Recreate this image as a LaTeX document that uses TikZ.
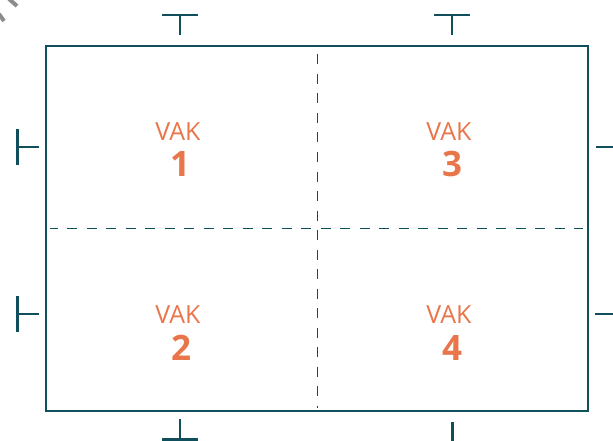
\documentclass[tikz,border=0pt]{standalone}
\usepackage{fontspec}
\setmainfont{Open Sans}
\definecolor{teal}{HTML}{0F4E5B}
\definecolor{vak}{HTML}{E8764A}
\begin{document}
\begin{tikzpicture}[x=1pt,y=-1pt,
  frame/.style={draw=teal,line width=2.1pt},
  tick/.style={draw=teal,line width=2.3pt},
  fold/.style={draw=teal,line width=0.9pt,dash pattern=on 10pt off 9.5pt},
  vaklabel/.style={text=vak,font=\fontsize{25}{25}\selectfont,anchor=base,inner sep=0pt},
  numlabel/.style={text=vak,font=\fontsize{35}{35}\selectfont\bfseries,anchor=base,inner sep=0pt}]
\useasboundingbox (0,0) rectangle (613,441);
% watermark fragments
\draw[black!45,line width=4pt] (9,-1) -- (17,6);
\draw[black!45,line width=4pt] (-1,14) -- (4,21);
% frame
\node[frame,minimum width=542pt,minimum height=365pt,inner sep=0pt,anchor=north west] (sheet) at (45,45) {};
% fold lines
\coordinate (vt) at (317,47);
\coordinate (vb) at (317,408);
\coordinate (hl) at (50,228.5);
\coordinate (hr) at (583,228.5);
\draw[fold,dash phase=12pt] (vt) -- (vb);
\draw[fold,dash phase=2.3pt] (hl) -- (hr);
% top ticks
\coordinate (t1a) at (162,15); \coordinate (t1b) at (198,15);
\coordinate (t1c) at (180,15); \coordinate (t1d) at (180,35);
\draw[tick] (t1a) -- (t1b) (t1c) -- (t1d);
\coordinate (t2a) at (434,15); \coordinate (t2b) at (470,15);
\coordinate (t2c) at (452,15); \coordinate (t2d) at (452,35);
\draw[tick] (t2a) -- (t2b) (t2c) -- (t2d);
% left ticks
\coordinate (l1a) at (17.5,129); \coordinate (l1b) at (17.5,165);
\coordinate (l1c) at (17.5,147); \coordinate (l1d) at (39,147);
\draw[tick] (l1a) -- (l1b) (l1c) -- (l1d);
\coordinate (l2a) at (17.5,296); \coordinate (l2b) at (17.5,332);
\coordinate (l2c) at (17.5,314); \coordinate (l2d) at (39,314);
\draw[tick] (l2a) -- (l2b) (l2c) -- (l2d);
% right ticks
\coordinate (r1a) at (596,147); \coordinate (r1b) at (615,147);
\draw[tick] (r1a) -- (r1b);
\coordinate (r2a) at (595,314); \coordinate (r2b) at (615,314);
\draw[tick] (r2a) -- (r2b);
% bottom ticks
\coordinate (b1a) at (162,439.5); \coordinate (b1b) at (198,439.5);
\coordinate (b1c) at (180,439.5); \coordinate (b1d) at (180,419);
\draw[tick] (b1a) -- (b1b) (b1c) -- (b1d);
\coordinate (b2c) at (452.5,443); \coordinate (b2d) at (452.5,421.5);
\draw[tick] (b2c) -- (b2d);
% labels
\node[vaklabel] (v1) at (178,141) {VAK};
\node[numlabel] (n1) at (180,176.5) {1};
\node[vaklabel] (v3) at (449,141) {VAK};
\node[numlabel] (n3) at (452,176.5) {3};
\node[vaklabel] (v2) at (178,323.5) {VAK};
\node[numlabel] (n2) at (181,360) {2};
\node[vaklabel] (v4) at (449,323.5) {VAK};
\node[numlabel] (n4) at (452,360) {4};
\end{tikzpicture}
\end{document}
